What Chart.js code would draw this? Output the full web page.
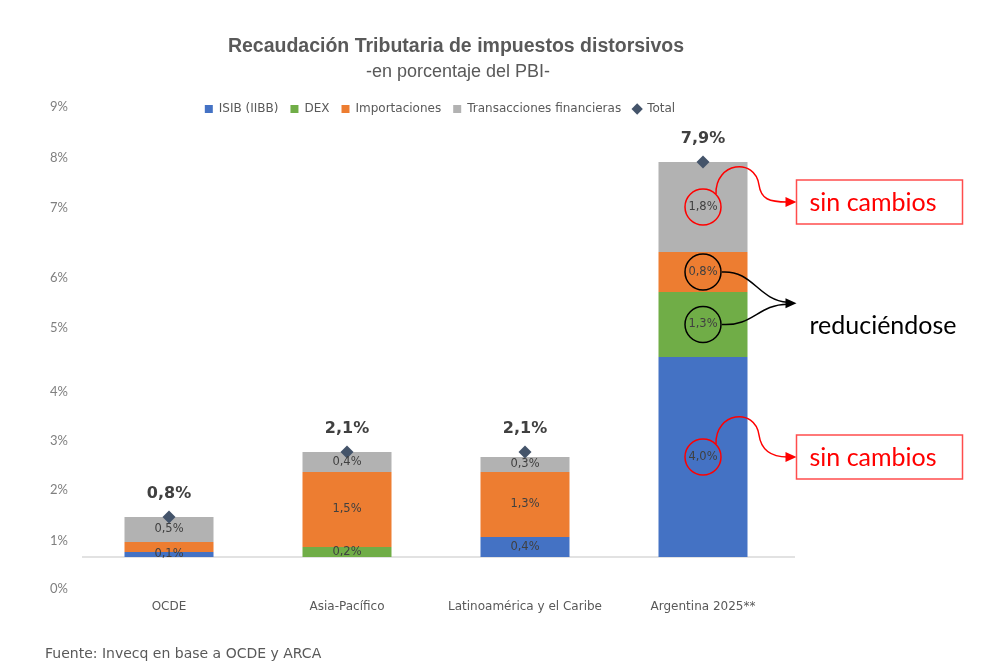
<!DOCTYPE html>
<html>
<head>
<meta charset="utf-8">
<script src="https://cdn.jsdelivr.net/npm/chart.js@4.4.1/dist/chart.umd.min.js"></script>
<style>
  html, body { margin: 0; padding: 0; background: #fff; }
  #wrap { width: 1000px; height: 670px; position: relative; }
</style>
</head>
<body>
<div id="wrap"><canvas id="impuestosChart"></canvas></div>
<script>
// data (% del PBI)
const categories = ['OCDE', 'Asia-Pacífico', 'Latinoamérica y el Caribe', 'Argentina 2025**'];
const isib = [0.1, 0, 0.4, 4.0];
const dex = [0, 0.2, 0, 1.3];
const importaciones = [0.2, 1.5, 1.3, 0.8];
const transacciones = [0.5, 0.4, 0.3, 1.8];
const total = [0.8, 2.1, 2.1, 7.9];

// the source axis labels are not evenly spaced, these are where they sit
const yTickLabels = ['0%', '1%', '2%', '3%', '4%', '5%', '6%', '7%', '8%', '9%'];
const yTickAt = [-0.64, 0.32, 1.34, 2.32, 3.3, 4.58, 5.58, 6.98, 7.98, 9.0];

// segment labels that the original leaves out: [dataset, category]
const unlabeled = [[2, 0]];

const GRAY_TXT = '#595959';
const fmt = v => v.toFixed(1).replace('.', ',') + '%';

// title, subtitle and source line
const texts = {
  id: 'texts',
  afterDraw(chart) {
    const ctx = chart.ctx;
    ctx.save();
    ctx.fillStyle = GRAY_TXT;
    ctx.textAlign = 'center';
    ctx.textBaseline = 'middle';
    ctx.font = 'bold 19.5px "Liberation Sans", Arial, sans-serif';
    ctx.fillText('Recaudación Tributaria de impuestos distorsivos', 456, 47);
    ctx.font = '18px "Liberation Sans", Arial, sans-serif';
    ctx.fillText('-en porcentaje del PBI-', 458, 72);
    ctx.textAlign = 'left';
    ctx.font = '14px "DejaVu Sans", sans-serif';
    ctx.fillText('Fuente: Invecq en base a OCDE y ARCA', 45, 654);
    ctx.restore();
  }
};

// baseline at 0, value labels, totals
const labels = {
  id: 'labels',
  beforeDatasetsDraw(chart) {
    const {ctx, chartArea} = chart;
    const y0 = chart.scales.y.getPixelForValue(0);
    ctx.save();
    ctx.strokeStyle = '#D9D9D9';
    ctx.lineWidth = 1.5;
    ctx.beginPath();
    ctx.moveTo(chartArea.left + 2, y0);
    ctx.lineTo(chartArea.right + 3, y0);
    ctx.stroke();
    ctx.restore();
  },
  afterDatasetsDraw(chart) {
    const ctx = chart.ctx;
    ctx.save();
    ctx.textAlign = 'center';
    ctx.textBaseline = 'middle';
    ctx.fillStyle = '#404040';
    ctx.font = '11.5px "DejaVu Sans", sans-serif';
    for (let d = 0; d < 4; d++) {
      const ds = chart.data.datasets[d];
      chart.getDatasetMeta(d).data.forEach((el, i) => {
        const v = ds.data[i];
        if (!v || unlabeled.some(u => u[0] === d && u[1] === i)) return;
        ctx.fillText(fmt(v), el.x, (el.y + el.base) / 2);
      });
    }
    ctx.font = 'bold 16px "DejaVu Sans", sans-serif';
    chart.getDatasetMeta(4).data.forEach((pt, i) => {
      ctx.fillText(fmt(total[i]), pt.x, pt.y - 23);
    });
    ctx.restore();
  }
};

// circles, arrows and boxes over the Argentina bar
const notes = {
  id: 'notes',
  afterDraw(chart) {
    const ctx = chart.ctx;
    const seg = (d, i) => {
      const el = chart.getDatasetMeta(d).data[i];
      return { x: el.x, y: (el.y + el.base) / 2, right: el.x + el.width / 2 };
    };
    const head = (x, y, color) => {
      ctx.fillStyle = color;
      ctx.beginPath();
      ctx.moveTo(x, y);
      ctx.lineTo(x - 11, y - 5);
      ctx.lineTo(x - 11, y + 5);
      ctx.closePath();
      ctx.fill();
    };
    const circle = (c, color) => {
      ctx.strokeStyle = color;
      ctx.lineWidth = 1.5;
      ctx.beginPath();
      ctx.arc(c.x, c.y, 18, 0, Math.PI * 2);
      ctx.stroke();
    };
    ctx.save();
    ctx.textAlign = 'left';
    ctx.textBaseline = 'middle';

    // red: unchanged
    [[3, -5], [0, 0]].forEach(([d, dy]) => {
      const c = seg(d, 3);
      const bx = c.right + 49;
      const ty = c.y + dy;
      circle(c, '#FF0000');
      ctx.beginPath();
      ctx.moveTo(c.x + 13, c.y - 13);
      ctx.bezierCurveTo(c.x + 12, c.y - 45, c.x + 52, c.y - 50, c.x + 56, c.y - 22);
      ctx.bezierCurveTo(c.x + 58, c.y - 8, c.x + 66, ty, bx - 9, ty);
      ctx.stroke();
      head(bx, ty, '#FF0000');
      ctx.strokeStyle = '#FF4D4D';
      ctx.strokeRect(bx, ty - 22, 166, 44);
      ctx.fillStyle = '#FF0000';
      ctx.font = '25px Lato, sans-serif';
      ctx.fillText('sin cambios', bx + 13, ty + 1);
    });

    // black: going down
    const a = seg(2, 3);
    const b = seg(1, 3);
    const bx = a.right + 49;
    const ty = (a.y + b.y) / 2 + 5;
    circle(a, '#000');
    circle(b, '#000');
    ctx.beginPath();
    ctx.moveTo(a.x + 19, a.y);
    ctx.bezierCurveTo(a.x + 50, a.y - 2, a.x + 55, a.y + 28, bx - 9, ty - 1);
    ctx.moveTo(b.x + 19, b.y);
    ctx.bezierCurveTo(b.x + 50, b.y + 2, b.x + 55, b.y - 20, bx - 9, ty + 1);
    ctx.stroke();
    head(bx, ty, '#000');
    ctx.fillStyle = '#000';
    ctx.font = '25px Lato, sans-serif';
    ctx.fillText('reduciéndose', bx + 13, b.y + 1);
    ctx.restore();
  }
};

Chart.defaults.font.family = '"DejaVu Sans", sans-serif';
Chart.defaults.color = GRAY_TXT;

new Chart(document.getElementById('impuestosChart'), {
  type: 'bar',
  data: {
    labels: categories,
    datasets: [
      { label: 'ISIB (IIBB)', data: isib, backgroundColor: '#4472C4', stack: 'bars', order: 1 },
      { label: 'DEX', data: dex, backgroundColor: '#70AD47', stack: 'bars', order: 1 },
      { label: 'Importaciones', data: importaciones, backgroundColor: '#ED7D31', stack: 'bars', order: 1 },
      { label: 'Transacciones financieras', data: transacciones, backgroundColor: '#B2B2B2', stack: 'bars', order: 1 },
      {
        label: 'Total', data: total, type: 'line', showLine: false, stack: 'total', order: 0,
        pointStyle: 'rectRot', pointRadius: 6.5, pointHoverRadius: 6.5,
        backgroundColor: '#44546A', borderColor: '#44546A', pointBackgroundColor: '#44546A', pointBorderWidth: 0
      }
    ]
  },
  options: {
    responsive: true,
    maintainAspectRatio: false,
    animation: false,
    layout: { padding: { top: 91, left: 36, right: 156, bottom: 40 } },
    datasets: { bar: { categoryPercentage: 0.5, barPercentage: 1, borderWidth: 0 } },
    scales: {
      x: {
        stacked: true,
        grid: { display: false, drawTicks: false },
        border: { display: false },
        ticks: { color: GRAY_TXT, font: { size: 12 }, padding: 10 },
        afterFit(scale) { scale.height = 40; }
      },
      y: {
        stacked: true,
        min: -0.66,
        max: 8.64,
        grid: { display: false, drawTicks: false },
        border: { display: false },
        ticks: {
          autoSkip: false,
          padding: 12,
          color: '#7F7F7F',
          font: { family: 'Lato, sans-serif', size: 13 },
          callback: (v, i) => yTickLabels[i]
        },
        afterBuildTicks(scale) { scale.ticks = yTickAt.map(v => ({ value: v })); },
        afterFit(scale) { scale.width = 44; }
      },
      y2: {
        position: 'right',
        grid: { display: false, drawTicks: false },
        border: { display: false },
        ticks: { display: false },
        afterFit(scale) { scale.width = 52; }
      }
    },
    plugins: {
      tooltip: { enabled: false },
      legend: {
        position: 'top',
        labels: {
          usePointStyle: true,
          boxWidth: 8,
          boxHeight: 8,
          padding: 12,
          color: GRAY_TXT,
          font: { size: 12 },
          sort: (a, b) => a.datasetIndex - b.datasetIndex,
          generateLabels(chart) {
            const items = Chart.defaults.plugins.legend.labels.generateLabels(chart);
            items.forEach(it => { it.pointStyle = it.datasetIndex === 4 ? 'rectRot' : 'rect'; it.lineWidth = 0; });
            return items;
          }
        }
      }
    }
  },
  plugins: [labels, notes, texts]
});
</script>
</body>
</html>
